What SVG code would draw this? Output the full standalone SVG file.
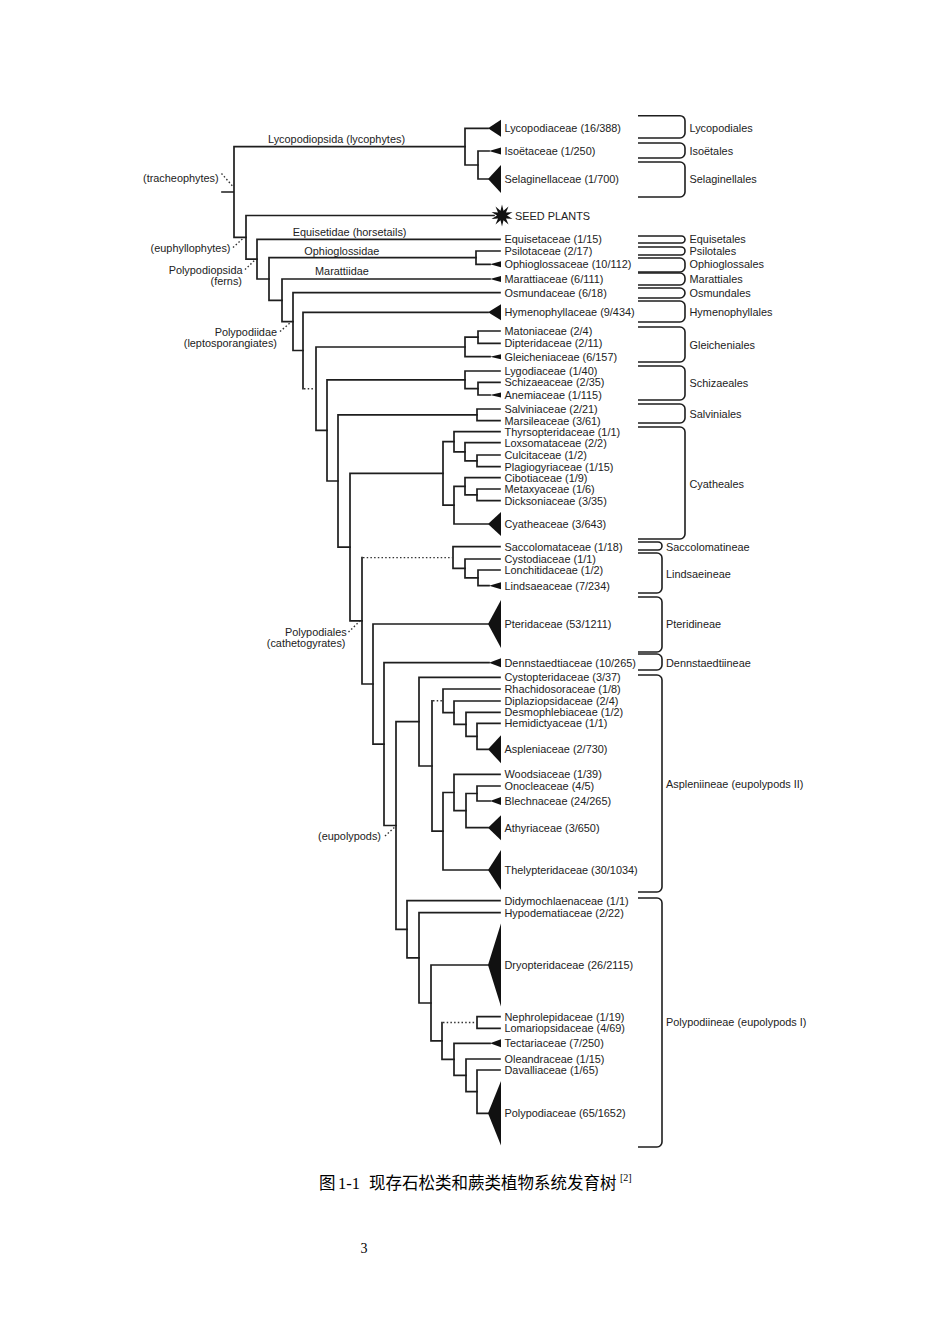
<svg xmlns="http://www.w3.org/2000/svg" width="950" height="1344" viewBox="0 0 950 1344">
<defs>
<style>
.ln{fill:none;stroke:#1e1e1e;stroke-width:1.7;stroke-linecap:square}
.dt{fill:none;stroke:#333;stroke-width:1.4;stroke-dasharray:1.5 2.2}
.br{fill:none;stroke:#1e1e1e;stroke-width:1.6}
.tri{fill:#111}
.t{font-family:"Liberation Sans",Arial,sans-serif;font-size:10.9px;fill:#222}
.cap{font-family:"Liberation Serif","Noto Sans CJK SC",serif;font-size:16.5px;fill:#000}
</style>
</defs>
<rect width="950" height="1344" fill="#fff"/>

<g id="connectors">
<path class="ln" d="M234,146.6V237.4M222,192H234M234,146.6H465M234,237.4H246"/>
<path class="ln" d="M465,128.3V165M465,128.3H488M465,165H478"/>
<path class="ln" d="M478,151V179M478,151H489M478,179H488"/>
<path class="ln" d="M246,215.5V259.2M246,215.5H494M246,259.2H257"/>
<path class="ln" d="M257,239.3V279M257,239.3H500M257,279H269"/>
<path class="ln" d="M476,251V264.3M476,251H500M476,264.3H490"/>
<path class="ln" d="M269,257.7V300.3M269,257.7H476M269,300.3H282"/>
<path class="ln" d="M282,279V321.6M282,279H490M282,321.6H293"/>
<path class="ln" d="M293,292.7V350.5M293,292.7H500M293,350.5H303"/>
<path class="ln" d="M303,312.3V388.7M303,312.3H488"/>
<path class="dt" d="M304,388.7H315"/>
<path class="ln" d="M316,347V430.4M316,347H465M316,430.4H327"/>
<path class="ln" d="M465,337.2V356.7M465,337.2H478M465,356.7H490"/>
<path class="ln" d="M478,331V343.3M478,331H500M478,343.3H500"/>
<path class="ln" d="M327,379.8V481M327,379.8H465M327,481H338"/>
<path class="ln" d="M465,371V388.7M465,371H500M465,388.7H478"/>
<path class="ln" d="M478,382.3V395M478,382.3H500M478,395H490"/>
<path class="ln" d="M338,414.8V547.1M338,414.8H477M338,547.1H350"/>
<path class="ln" d="M477,409V420.7M477,409H500M477,420.7H500"/>
<path class="ln" d="M350,473.4V620.8M350,473.4H443M350,620.8H362"/>
<path class="ln" d="M443,441.7V505.2M443,441.7H454M443,505.2H454"/>
<path class="ln" d="M454,431.7V451.8M454,431.7H500M454,451.8H465"/>
<path class="ln" d="M465,442.7V460.8M465,442.7H500M465,460.8H477"/>
<path class="ln" d="M477,455V466.7M477,455H500M477,466.7H500"/>
<path class="ln" d="M454,486.3V524M454,486.3H465M454,524H488"/>
<path class="ln" d="M465,477.7V494.8M465,477.7H500M465,494.8H477"/>
<path class="ln" d="M477,489V500.7M477,489H500M477,500.7H500"/>
<path class="ln" d="M362,557.6V684M362,684H373"/>
<path class="dt" d="M363,557.6H452"/>
<path class="ln" d="M453,546.7V568.4M453,546.7H500M453,568.4H465"/>
<path class="ln" d="M465,559V577.8M465,559H500M465,577.8H478"/>
<path class="ln" d="M478,570V585.7M478,570H500M478,585.7H489"/>
<path class="ln" d="M373,624V744.1M373,624H488M373,744.1H384"/>
<path class="ln" d="M384,662.7V825.5M384,662.7H489M384,825.5H396"/>
<path class="ln" d="M396,721.7V929.3M396,721.7H419M396,929.3H407"/>
<path class="ln" d="M419,677.3V766M419,677.3H500M419,766H432"/>
<path class="ln" d="M432,700.8V831.2M432,831.2H443"/>
<path class="dt" d="M433,700.8H442"/>
<path class="ln" d="M443,689V712.7M443,689H500M443,712.7H454"/>
<path class="ln" d="M454,701V724.3M454,701H500M454,724.3H466"/>
<path class="ln" d="M466,712.3V736.3M466,712.3H500M466,736.3H477"/>
<path class="ln" d="M477,723.3V749.3M477,723.3H500M477,749.3H488"/>
<path class="ln" d="M443,792.5V870M443,792.5H454M443,870H488"/>
<path class="ln" d="M454,774.3V810.6M454,774.3H500M454,810.6H466"/>
<path class="ln" d="M466,793.5V827.7M466,793.5H477M466,827.7H488"/>
<path class="ln" d="M477,786V801M477,786H500M477,801H490"/>
<path class="ln" d="M407,900.7V957.8M407,900.7H500M407,957.8H419"/>
<path class="ln" d="M419,912.7V1003M419,912.7H500M419,1003H431"/>
<path class="ln" d="M431,965V1040.9M431,965H488M431,1040.9H442"/>
<path class="ln" d="M442,1022.5V1059.3M442,1059.3H454"/>
<path class="dt" d="M443,1022.5H476"/>
<path class="ln" d="M477,1016.7V1028.3M477,1016.7H500M477,1028.3H500"/>
<path class="ln" d="M454,1043.3V1075.3M454,1043.3H490M454,1075.3H466"/>
<path class="ln" d="M466,1059V1091.7M466,1059H500M466,1091.7H477"/>
<path class="ln" d="M477,1070V1113.3M477,1070H500M477,1113.3H488"/>
<path class="dt" d="M221.5,173.5L232.5,186M233,247.5L243,238.5M245,269.5L254.5,260.5M280,331.5L290,323M348.5,632L360,621M385,836L395,827"/>
</g>

<g id="clade-labels">
<text class="t" x="268" y="143">Lycopodiopsida (lycophytes)</text>
<text class="t" x="143" y="181.6">(tracheophytes)</text>
<text class="t" x="292.7" y="235.6">Equisetidae (horsetails)</text>
<text class="t" x="230.5" y="252" text-anchor="end">(euphyllophytes)</text>
<text class="t" x="304.3" y="255">Ophioglossidae</text>
<text class="t" x="242.5" y="273.9" text-anchor="end">Polypodiopsida</text>
<text class="t" x="242" y="284.5" text-anchor="end">(ferns)</text>
<text class="t" x="315" y="275.4">Marattiidae</text>
<text class="t" x="277" y="335.6" text-anchor="end">Polypodiidae</text>
<text class="t" x="277" y="347.2" text-anchor="end">(leptosporangiates)</text>
<text class="t" x="346.7" y="636.2" text-anchor="end">Polypodiales</text>
<text class="t" x="345.5" y="647.2" text-anchor="end">(cathetogyrates)</text>
<text class="t" x="381" y="840" text-anchor="end">(eupolypods)</text>
</g>

<g id="n-lycopodiaceae"><polygon class="tri" points="488,128.3 501,119.8 501,136.8"/><text class="t" x="504.5" y="132.2">Lycopodiaceae (16/388)</text></g>
<g id="n-isoetaceae"><polygon class="tri" points="489,151 501,147.5 501,154.5"/><text class="t" x="504.5" y="154.9">Isoëtaceae (1/250)</text></g>
<g id="n-selaginellaceae"><polygon class="tri" points="488,179 501,165 501,193"/><text class="t" x="504.5" y="182.9">Selaginellaceae (1/700)</text></g>
<g id="n-seedplants"><polygon class="tri" transform="translate(502,215.5)" points="0,-11 1.5,-4.8 6.5,-8.9 4,-2.9 10.5,-3.4 5,0 10.5,3.4 4,2.9 6.5,8.9 1.5,4.8 0,11 -1.5,4.8 -6.5,8.9 -4,2.9 -10.5,3.4 -5,0 -10.5,-3.4 -4,-2.9 -6.5,-8.9 -1.5,-4.8"/><text class="t" x="515" y="219.6">SEED PLANTS</text></g>
<g id="n-equisetaceae"><text class="t" x="504.5" y="243.2">Equisetaceae (1/15)</text></g>
<g id="n-psilotaceae"><text class="t" x="504.5" y="254.9">Psilotaceae (2/17)</text></g>
<g id="n-ophioglossaceae"><polygon class="tri" points="490,264.3 501,261.3 501,267.3"/><text class="t" x="504.5" y="268.2">Ophioglossaceae (10/112)</text></g>
<g id="n-marattiaceae"><polygon class="tri" points="490,279 501,276 501,282"/><text class="t" x="504.5" y="282.9">Marattiaceae (6/111)</text></g>
<g id="n-osmundaceae"><text class="t" x="504.5" y="296.6">Osmundaceae (6/18)</text></g>
<g id="n-hymenophyllaceae"><polygon class="tri" points="488,312.3 501,304.3 501,320.3"/><text class="t" x="504.5" y="316.2">Hymenophyllaceae (9/434)</text></g>
<g id="n-matoniaceae"><text class="t" x="504.5" y="334.9">Matoniaceae (2/4)</text></g>
<g id="n-dipteridaceae"><text class="t" x="504.5" y="347.2">Dipteridaceae (2/11)</text></g>
<g id="n-gleicheniaceae"><polygon class="tri" points="490,356.7 501,354.2 501,359.2"/><text class="t" x="504.5" y="360.6">Gleicheniaceae (6/157)</text></g>
<g id="n-lygodiaceae"><text class="t" x="504.5" y="374.9">Lygodiaceae (1/40)</text></g>
<g id="n-schizaeaceae"><text class="t" x="504.5" y="386.2">Schizaeaceae (2/35)</text></g>
<g id="n-anemiaceae"><polygon class="tri" points="490,395 501,392.5 501,397.5"/><text class="t" x="504.5" y="398.9">Anemiaceae (1/115)</text></g>
<g id="n-salviniaceae"><text class="t" x="504.5" y="412.9">Salviniaceae (2/21)</text></g>
<g id="n-marsileaceae"><text class="t" x="504.5" y="424.6">Marsileaceae (3/61)</text></g>
<g id="n-thyrsopteridaceae"><text class="t" x="504.5" y="435.6">Thyrsopteridaceae (1/1)</text></g>
<g id="n-loxsomataceae"><text class="t" x="504.5" y="446.6">Loxsomataceae (2/2)</text></g>
<g id="n-culcitaceae"><text class="t" x="504.5" y="458.9">Culcitaceae (1/2)</text></g>
<g id="n-plagiogyriaceae"><text class="t" x="504.5" y="470.6">Plagiogyriaceae (1/15)</text></g>
<g id="n-cibotiaceae"><text class="t" x="504.5" y="481.6">Cibotiaceae (1/9)</text></g>
<g id="n-metaxyaceae"><text class="t" x="504.5" y="492.9">Metaxyaceae (1/6)</text></g>
<g id="n-dicksoniaceae"><text class="t" x="504.5" y="504.6">Dicksoniaceae (3/35)</text></g>
<g id="n-cyatheaceae"><polygon class="tri" points="488,524 501,512 501,536"/><text class="t" x="504.5" y="527.9">Cyatheaceae (3/643)</text></g>
<g id="n-saccolomataceae"><text class="t" x="504.5" y="550.6">Saccolomataceae (1/18)</text></g>
<g id="n-cystodiaceae"><text class="t" x="504.5" y="562.9">Cystodiaceae (1/1)</text></g>
<g id="n-lonchitidaceae"><text class="t" x="504.5" y="573.9">Lonchitidaceae (1/2)</text></g>
<g id="n-lindsaeaceae"><polygon class="tri" points="489,585.7 501,582.2 501,589.2"/><text class="t" x="504.5" y="589.6">Lindsaeaceae (7/234)</text></g>
<g id="n-pteridaceae"><polygon class="tri" points="488,624 501,600 501,648"/><text class="t" x="504.5" y="627.9">Pteridaceae (53/1211)</text></g>
<g id="n-dennstaedtiaceae"><polygon class="tri" points="489,662.7 501,658.2 501,667.2"/><text class="t" x="504.5" y="666.6">Dennstaedtiaceae (10/265)</text></g>
<g id="n-cystopteridaceae"><text class="t" x="504.5" y="681.2">Cystopteridaceae (3/37)</text></g>
<g id="n-rhachidosoraceae"><text class="t" x="504.5" y="692.9">Rhachidosoraceae (1/8)</text></g>
<g id="n-diplaziopsidaceae"><text class="t" x="504.5" y="704.9">Diplaziopsidaceae (2/4)</text></g>
<g id="n-desmophlebiaceae"><text class="t" x="504.5" y="716.2">Desmophlebiaceae (1/2)</text></g>
<g id="n-hemidictyaceae"><text class="t" x="504.5" y="727.2">Hemidictyaceae (1/1)</text></g>
<g id="n-aspleniaceae"><polygon class="tri" points="488,749.3 501,735.3 501,763.3"/><text class="t" x="504.5" y="753.2">Aspleniaceae (2/730)</text></g>
<g id="n-woodsiaceae"><text class="t" x="504.5" y="778.2">Woodsiaceae (1/39)</text></g>
<g id="n-onocleaceae"><text class="t" x="504.5" y="789.9">Onocleaceae (4/5)</text></g>
<g id="n-blechnaceae"><polygon class="tri" points="490,801 501,797 501,805"/><text class="t" x="504.5" y="804.9">Blechnaceae (24/265)</text></g>
<g id="n-athyriaceae"><polygon class="tri" points="488,827.7 501,815.2 501,840.2"/><text class="t" x="504.5" y="831.6">Athyriaceae (3/650)</text></g>
<g id="n-thelypteridaceae"><polygon class="tri" points="488,870 501,850 501,890"/><text class="t" x="504.5" y="873.9">Thelypteridaceae (30/1034)</text></g>
<g id="n-didymochlaenaceae"><text class="t" x="504.5" y="904.6">Didymochlaenaceae (1/1)</text></g>
<g id="n-hypodematiaceae"><text class="t" x="504.5" y="916.6">Hypodematiaceae (2/22)</text></g>
<g id="n-dryopteridaceae"><polygon class="tri" points="488,965 501,923.5 501,1006.5"/><text class="t" x="504.5" y="968.9">Dryopteridaceae (26/2115)</text></g>
<g id="n-nephrolepidaceae"><text class="t" x="504.5" y="1020.6">Nephrolepidaceae (1/19)</text></g>
<g id="n-lomariopsidaceae"><text class="t" x="504.5" y="1032.2">Lomariopsidaceae (4/69)</text></g>
<g id="n-tectariaceae"><polygon class="tri" points="490,1043.3 501,1039.3 501,1047.3"/><text class="t" x="504.5" y="1047.2">Tectariaceae (7/250)</text></g>
<g id="n-oleandraceae"><text class="t" x="504.5" y="1062.9">Oleandraceae (1/15)</text></g>
<g id="n-davalliaceae"><text class="t" x="504.5" y="1073.9">Davalliaceae (1/65)</text></g>
<g id="n-polypodiaceae"><polygon class="tri" points="488,1113.3 501,1081 501,1145.6"/><text class="t" x="504.5" y="1117.2">Polypodiaceae (65/1652)</text></g>

<g id="b-lycopodiales"><path class="br" d="M638,115.7H680A5,5 0 0 1 685,120.7V133A5,5 0 0 1 680,138H638"/><text class="t" x="689.5" y="131.6">Lycopodiales</text></g>
<g id="b-isoetales"><path class="br" d="M638,143H680A5,5 0 0 1 685,148V153A5,5 0 0 1 680,158H638"/><text class="t" x="689.5" y="154.6">Isoëtales</text></g>
<g id="b-selaginellales"><path class="br" d="M638,162H680A5,5 0 0 1 685,167V192A5,5 0 0 1 680,197H638"/><text class="t" x="689.5" y="182.9">Selaginellales</text></g>
<g id="b-equisetales"><path class="br" d="M638,236H681.5A3.5,3.5 0 0 1 681.5,243H638"/><text class="t" x="689.5" y="243.2">Equisetales</text></g>
<g id="b-psilotales"><path class="br" d="M638,247H681A4,4 0 0 1 681,255H638"/><text class="t" x="689.5" y="254.6">Psilotales</text></g>
<g id="b-ophioglossales"><path class="br" d="M638,258H680A5,5 0 0 1 685,263V267A5,5 0 0 1 680,272H638"/><text class="t" x="689.5" y="268.2">Ophioglossales</text></g>
<g id="b-marattiales"><path class="br" d="M638,273H680A5,5 0 0 1 685,278V280A5,5 0 0 1 680,285H638"/><text class="t" x="689.5" y="282.9">Marattiales</text></g>
<g id="b-osmundales"><path class="br" d="M638,288H680A5,5 0 0 1 680,298H638"/><text class="t" x="689.5" y="296.6">Osmundales</text></g>
<g id="b-hymenophyllales"><path class="br" d="M638,301H680A5,5 0 0 1 685,306V317A5,5 0 0 1 680,322H638"/><text class="t" x="689.5" y="316.2">Hymenophyllales</text></g>
<g id="b-gleicheniales"><path class="br" d="M638,327H680A5,5 0 0 1 685,332V357A5,5 0 0 1 680,362H638"/><text class="t" x="689.5" y="348.9">Gleicheniales</text></g>
<g id="b-schizaeales"><path class="br" d="M638,366H680A5,5 0 0 1 685,371V395A5,5 0 0 1 680,400H638"/><text class="t" x="689.5" y="387.2">Schizaeales</text></g>
<g id="b-salviniales"><path class="br" d="M638,404H680A5,5 0 0 1 685,409V418A5,5 0 0 1 680,423H638"/><text class="t" x="689.5" y="417.9">Salviniales</text></g>
<g id="b-cyatheales"><path class="br" d="M638,427H680A5,5 0 0 1 685,432V534A5,5 0 0 1 680,539H638"/><text class="t" x="689.5" y="487.9">Cyatheales</text></g>
<g id="b-saccolomatineae"><path class="br" d="M638,542H658A4,4 0 0 1 658,550H638"/><text class="t" x="666" y="550.6">Saccolomatineae</text></g>
<g id="b-lindsaeineae"><path class="br" d="M638,553H657A5,5 0 0 1 662,558V588A5,5 0 0 1 657,593H638"/><text class="t" x="666" y="577.9">Lindsaeineae</text></g>
<g id="b-pteridineae"><path class="br" d="M638,597H657A5,5 0 0 1 662,602V647A5,5 0 0 1 657,652H638"/><text class="t" x="666" y="628.2">Pteridineae</text></g>
<g id="b-dennstaedtiineae"><path class="br" d="M638,654H657A5,5 0 0 1 662,659V665A5,5 0 0 1 657,670H638"/><text class="t" x="666" y="666.6">Dennstaedtiineae</text></g>
<g id="b-aspleniineae"><path class="br" d="M638,675H657A5,5 0 0 1 662,680V887A5,5 0 0 1 657,892H638"/><text class="t" x="666" y="787.9">Aspleniineae (eupolypods II)</text></g>
<g id="b-polypodiineae"><path class="br" d="M638,898H657A5,5 0 0 1 662,903V1142A5,5 0 0 1 657,1147H638"/><text class="t" x="666" y="1026.2">Polypodiineae (eupolypods I)</text></g>

<g id="caption">
<text class="cap" y="1189"><tspan x="319">图</tspan><tspan x="338">1-1</tspan><tspan x="369">现存石松类和蕨类植物系统发育树</tspan></text>
<text x="620" y="1181" style="font-family:'Liberation Serif',serif;font-size:10px;fill:#000">[2]</text>
</g>
<text x="364" y="1253" text-anchor="middle" style="font-family:'Liberation Serif',serif;font-size:14px;fill:#000">3</text>
</svg>
